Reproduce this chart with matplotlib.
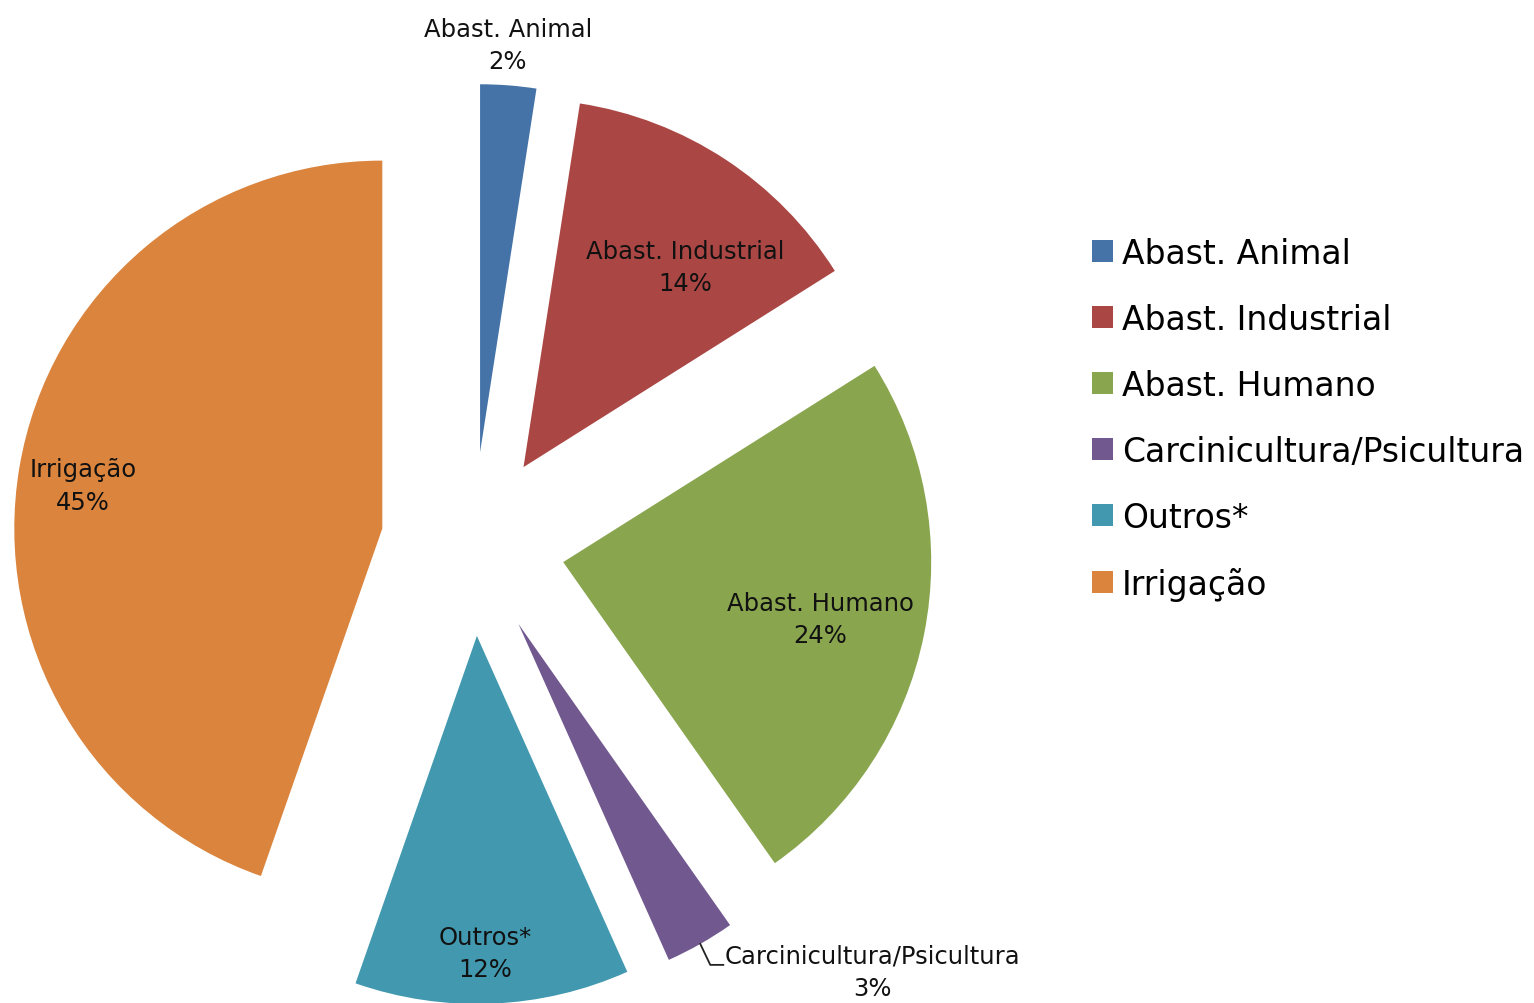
import numpy as np
import matplotlib
matplotlib.use("Agg")
import matplotlib.pyplot as plt
from matplotlib.patches import Patch

# Uso da água por finalidade (%)
categorias = ["Abast. Animal", "Abast. Industrial", "Abast. Humano",
              "Carcinicultura/Psicultura", "Outros*", "Irrigação"]
percentuais = [2.45, 13.6, 24.2, 3.05, 12.05, 44.65]
cores = ["#4572A7", "#AA4643", "#89A54E", "#71588F", "#4198AF", "#DB843D"]

# posição dos rótulos: (distância relativa ao raio, desvio angular em graus)
pos_rotulos = [(1.109, 0.5), (0.70, -5.7), (0.716, -1.2), (1.349, 15.9), (0.862, -1.0), (0.821, 1.4)]

plt.rcParams['font.family'] = ['DejaVu Sans']

fig = plt.figure(figsize=(15.34, 10.04), dpi=100)
ax = fig.add_axes([0, 0, 1, 1])

raio = 368
wedges, _ = ax.pie(percentuais, colors=cores, startangle=90, counterclock=False,
                   explode=[92] * len(percentuais), radius=raio, center=(473, 459),
                   wedgeprops=dict(linewidth=0))

for w, nome, pct, (d, off) in zip(wedges, categorias, percentuais, pos_rotulos):
    tmid = np.deg2rad((w.theta1 + w.theta2) / 2)
    tm = tmid + np.deg2rad(off)
    cx, cy = w.center
    tx = cx + d * raio * np.cos(tm)
    ty = cy + d * raio * np.sin(tm)
    ax.text(tx, ty, f"{nome}\n{pct:.0f}%", ha='center', va='center',
            fontsize=17.5, linespacing=1.44, color='#111111')
    if nome.startswith("Carcini"):
        # linha de chamada até a borda da fatia
        ex = cx + raio * np.cos(tmid)
        ey = cy + raio * np.sin(tmid)
        by = ty + 7
        ax.plot([ex, ex + 10, ex + 23], [ey, by, by], color='#222222', lw=1.3)

handles = [Patch(facecolor=c, edgecolor='none') for c in cores]
fig.legend(handles, categorias, loc='center left', bbox_to_anchor=(1092 / 1534, 0.582),
           frameon=False, fontsize=23.8, handlelength=0.64, handleheight=0.64,
           handletextpad=0.27, labelspacing=1.0, borderpad=0, borderaxespad=0)

ax.set_xlim(0, 1534)
ax.set_ylim(0, 1004)
ax.set_aspect('equal')
ax.axis('off')

plt.savefig('out.png', dpi=100)
